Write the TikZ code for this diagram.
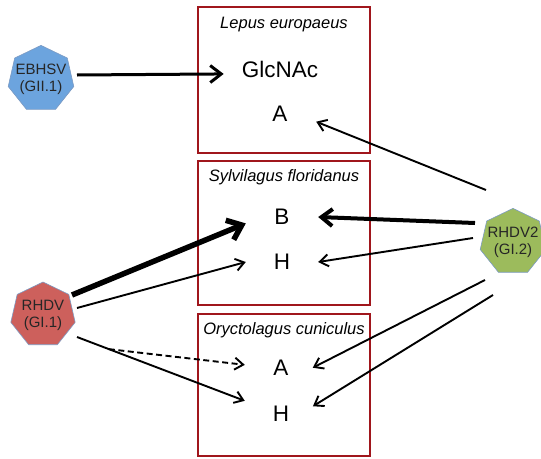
\documentclass[tikz,border=0pt]{standalone}
\usepackage{fontspec}
\setmainfont{Liberation Sans}
\usepackage{xcolor}
\usetikzlibrary{positioning, arrows.meta, shapes.geometric}
\definecolor{HostRed}{RGB}{160,22,28}
\definecolor{VirusBlue}{RGB}{108,164,222}
\definecolor{VirusRed}{RGB}{205,96,92}
\definecolor{VirusGreen}{RGB}{156,187,92}
\definecolor{VirusEdge}{RGB}{125,155,195}

\begin{document}
\begin{tikzpicture}[
    x=1pt, y=-1pt,
    >={Straight Barb[length=8.5pt,width=12pt]},
    hostbox/.style={
        draw=HostRed,
        line width=2.2pt,
        minimum width=172pt
    },
    hosttitle/.style={
        anchor=base,
        inner sep=0pt,
        font=\fontsize{16.5}{19}\selectfont\itshape
    },
    site/.style={
        inner sep=0pt,
        minimum width=72pt,
        minimum height=28pt,
        font=\fontsize{22.5}{25}\selectfont
    },
    virus/.style={
        regular polygon,
        regular polygon sides=7,
        draw=VirusEdge,
        line width=0.6pt,
        inner sep=-4pt,
        align=center,
        text=black!85,
        font=\fontsize{15}{17}\selectfont
    },
    arrow/.style={
        ->,
        line width=1.9pt
    },
    bigarrow/.style={
        ->,
        line width=#1,
        >={Straight Barb[length=11pt,width=17pt]}
    }
]
\useasboundingbox (0,0) rectangle (541,458);

% Host species boxes with their titles
\node[hostbox, minimum height=146pt] (lepus) at (284,80)  {};
\node[hostbox, minimum height=144pt] (sylv)  at (284,233) {};
\node[hostbox, minimum height=142pt] (oryct) at (284,385) {};

\node[hosttitle] (lepus-t) at ([yshift=-23pt]lepus.north) {Lepus europaeus};
\node[hosttitle] (sylv-t)  at ([yshift=-22pt]sylv.north)  {Sylvilagus floridanus};
\node[hosttitle] (oryct-t) at ([yshift=-22pt]oryct.north) {Oryctolagus cuniculus};

% Attachment factors inside each box
\node[site, minimum width=0pt, inner xsep=18pt] (glcnac) at (280,69) {GlcNAc};
\node[site] (le-a) at (280,114) {A};
\node[site] (sy-b) at (282,217) {B};
\node[site] (sy-h) at (282,262) {H};
\node[site] (or-a) at (281,368) {A};
\node[site] (or-h) at (281,414) {H};

% Viruses
\node[virus, fill=VirusBlue,  minimum size=66pt] (ebhsv) at (41,79)   {EBHSV\\(GII.1)};
\node[virus, fill=VirusRed,   minimum size=66pt] (rhdv)  at (43,315)  {RHDV\\(GI.1)};
\node[virus, fill=VirusGreen, minimum size=60pt] (rhdv2) at (513,242) {RHDV2\\(GI.2)};

% Where the arrows leave the viruses
\coordinate (eb-out)  at ([shift={(36,-4)}]ebhsv.center);
\coordinate (r-out1)  at ([shift={(29,-20)}]rhdv.center);
\coordinate (r-out2)  at ([shift={(34,-7)}]rhdv.center);
\coordinate (r-out3)  at ([shift={(34,22)}]rhdv.center);
\coordinate (r2-out1) at ([shift={(-27,-52)}]rhdv2.center);
\coordinate (r2-out2) at ([shift={(-38,-19)}]rhdv2.center);
\coordinate (r2-out3) at ([shift={(-40,-4)}]rhdv2.center);
\coordinate (r2-out4) at ([shift={(-28,38)}]rhdv2.center);
\coordinate (r2-out5) at ([shift={(-20,53)}]rhdv2.center);

% EBHSV binding
\draw[bigarrow=3pt] (eb-out) -- (glcnac.185);

% RHDV binding
\draw[bigarrow=5.5pt, >={Straight Barb[length=13pt,width=21pt]}] (r-out1) -- (sy-b.190);
\draw[arrow] (r-out2) -- (sy-h.west);
\draw[arrow] (r-out3) -- coordinate[pos=0.19] (fork) (or-h.160);
\draw[arrow, dash pattern=on 6pt off 3.5pt] (fork) -- (or-a.175);

% RHDV2 binding
\draw[arrow] (r2-out1) -- (le-a.-12);
\draw[bigarrow=4pt] (r2-out2) -- (sy-b.east);
\draw[arrow] (r2-out3) -- (sy-h.east);
\draw[arrow, shorten >=-5pt] (r2-out4) -- (or-a.4);
\draw[arrow, shorten >=-5pt] (r2-out5) -- (or-h.16);

\end{tikzpicture}
\end{document}
